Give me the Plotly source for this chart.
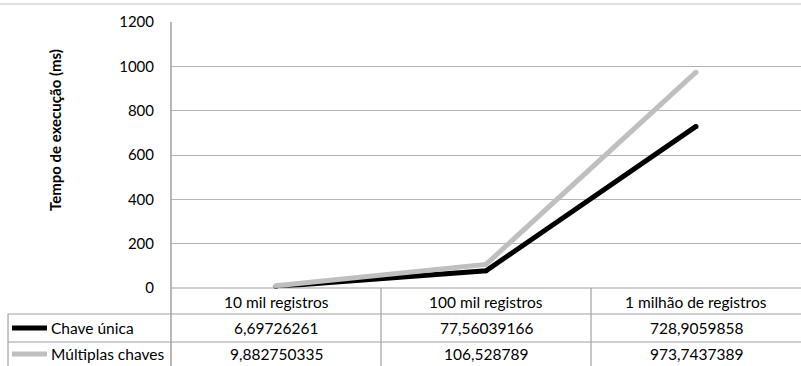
import plotly.graph_objects as go

categories = ["10 mil registros", "100 mil registros", "1 milhão de registros"]
series_names = ["Chave única", "Múltiplas chaves"]
chave_unica = [6.69726261, 77.56039166, 728.9059858]
multiplas_chaves = [9.882750335, 106.528789, 973.7437389]
series_colors = ["#000000", "#bfbfbf"]
y_title = "Tempo de execução (ms)"

OFF = 0                         # body margin removed via post_script
W, H = 801 - OFF, 366 - OFF
L, T, B = 171 - OFF, 22 - OFF, 288 - OFF   # plot area pixel edges (figure coords)
PW, PH = W - L, B - T

def px_x(px):                   # px given in page coords
    return (px - OFF - L) / PW

def px_y(py):
    return (B - (py - OFF)) / PH

FONT = "Lato, Carlito, Calibri, sans-serif"
GRID = "#b4b4b4"
TABLE = "#a0a0a0"
FS = 15.5

fig = go.Figure()
for name, vals, col in zip(series_names, [chave_unica, multiplas_chaves], series_colors):
    fig.add_trace(go.Scatter(
        x=categories, y=vals, name=name, mode="lines+markers",
        line=dict(color=col, width=5),
        marker=dict(color=col, size=5, line=dict(width=0)),
        showlegend=False, cliponaxis=False,
    ))

shapes = []
ann = []
# top border line
shapes.append(dict(type="line", xref="paper", yref="paper",
                   x0=px_x(0), x1=1, y0=px_y(4), y1=px_y(4),
                   line=dict(color="#bdbdbd", width=1)))
# left vertical axis line through table
shapes.append(dict(type="line", xref="paper", yref="paper",
                   x0=0, x1=0, y0=1, y1=px_y(370),
                   line=dict(color=TABLE, width=1.5)))
# table horizontal lines
row_lines = [288, 314, 342]
for i, ry in enumerate(row_lines):
    x0 = 0 if i == 0 else px_x(8)
    shapes.append(dict(type="line", xref="paper", yref="paper",
                       x0=x0, x1=1, y0=px_y(ry), y1=px_y(ry),
                       line=dict(color=TABLE, width=1.2)))
# left border of label column
shapes.append(dict(type="line", xref="paper", yref="paper",
                   x0=px_x(8), x1=px_x(8), y0=px_y(314), y1=px_y(370),
                   line=dict(color=TABLE, width=1.2)))
# column separators
for b in [0.5, 1.5]:
    shapes.append(dict(type="line", xref="x", yref="paper",
                       x0=b, x1=b, y0=px_y(288), y1=px_y(370),
                       line=dict(color=TABLE, width=1.2)))

header_y = px_y(301.5)
row_ys = [px_y(328), px_y(354)]
for c in categories:
    ann.append(dict(x=c, y=header_y, xref="x", yref="paper", text=c,
                    xanchor="center", yanchor="middle",
                    showarrow=False, font=dict(size=FS, color="#000")))
for name, vals, col, ry in zip(series_names, [chave_unica, multiplas_chaves], series_colors, row_ys):
    for c, v in zip(categories, vals):
        ann.append(dict(x=c, y=ry, xref="x", yref="paper",
                        text=repr(v).replace(".", ","),
                        xanchor="center", yanchor="middle",
                        showarrow=False, font=dict(size=FS, color="#000")))
    # legend glyph
    shapes.append(dict(type="line", xref="paper", yref="paper",
                       x0=px_x(12), x1=px_x(47), y0=ry, y1=ry,
                       line=dict(color=col, width=5)))
    ann.append(dict(x=px_x(49), y=ry, xref="paper", yref="paper", text=name,
                    xanchor="left", yanchor="middle", showarrow=False,
                    font=dict(size=FS, color="#000")))

# y title
ann.append(dict(x=px_x(55), y=px_y(130), xref="paper", yref="paper",
                text="<b>" + y_title + "</b>", xanchor="center", yanchor="middle",
                textangle=-90, showarrow=False, font=dict(size=15, color="#000")))

fig.update_layout(
    width=W, height=H,
    margin=dict(l=L, r=0, t=T, b=H - B, pad=0),
    paper_bgcolor="white", plot_bgcolor="white",
    font=dict(family=FONT, size=FS, color="#000"),
    shapes=shapes, annotations=ann,
    xaxis=dict(type="category", range=[-0.5, 2.5], showticklabels=False,
               showgrid=False, zeroline=False, showline=False, ticks=""),
    yaxis=dict(range=[0, 1200], dtick=200, tick0=0, showgrid=True, gridcolor=GRID,
               gridwidth=1, zeroline=False, showline=False, ticks="",
               ticklabelstandoff=16, tickfont=dict(size=15, color="#000")),
)

fig.write_html("out.html", config={"displayModeBar": False},
               post_script="document.body.style.margin='0';document.body.style.overflow='hidden';")
